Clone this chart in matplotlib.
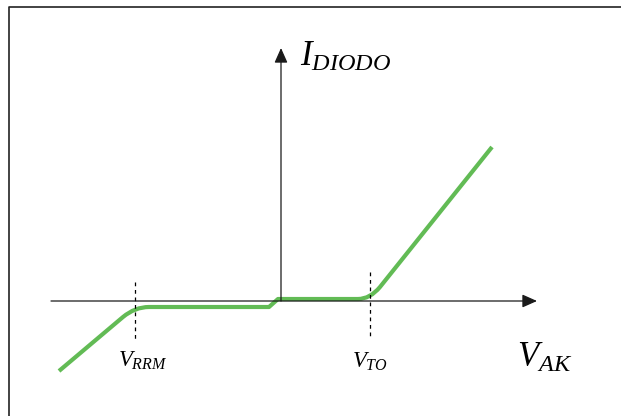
import matplotlib
matplotlib.use("Agg")
import matplotlib.pyplot as plt
from matplotlib.path import Path
from matplotlib.patches import PathPatch

plt.rcParams['mathtext.fontset'] = 'custom'
plt.rcParams['mathtext.it'] = 'Liberation Serif:italic'
plt.rcParams['mathtext.rm'] = 'Liberation Serif'

# característica I-V del diodo (unidades arbitrarias, origen en el cruce de ejes)
v_rrm = -146
v_to = 89
i_rev = -6      # tramo plano en inversa
i_fwd = 2       # tramo plano en directa
curva_v = [-222, -158, v_rrm, -132, -12, -3, 77, v_to, 99, 211]
curva_i = [-70, -16, i_rev, i_rev, i_rev, i_fwd, i_fwd, i_fwd, 14, 154]
codigos = [Path.MOVETO, Path.LINETO, Path.CURVE3, Path.CURVE3, Path.LINETO,
           Path.LINETO, Path.LINETO, Path.CURVE3, Path.CURVE3, Path.LINETO]

eje_v = (-230, 256)
eje_i = (0, 253)

fig = plt.figure(figsize=(6.21, 4.16), dpi=100)
ax = fig.add_axes([0, 0, 1, 1])
ax.set_xlim(-281, 340)
ax.set_ylim(-115, 301)
ax.axis('off')

# marco
ax.plot([0.0145, 0.0145, 1.0], [0.0, 0.983, 0.983], transform=ax.transAxes,
        color='#222222', lw=1.2, solid_capstyle='butt')

# ejes con flecha
flecha = dict(arrowstyle='-|>,head_length=0.45,head_width=0.2', color='#1a1a1a',
              lw=0.9, mutation_scale=20, shrinkA=0, shrinkB=0)
ax.annotate('', xy=(eje_v[1], 0), xytext=(eje_v[0], 0), arrowprops=flecha)
ax.annotate('', xy=(0, eje_i[1]), xytext=(0, eje_i[0]), arrowprops=flecha)

# líneas de referencia
ax.plot([v_rrm, v_rrm], [19, -39], color='black', lw=0.9, ls=(0, (3, 3)))
ax.plot([v_to, v_to], [29, -38], color='black', lw=0.9, ls=(0, (3, 3)))

# curva
camino = Path(list(zip(curva_v, curva_i)), codigos)
ax.add_patch(PathPatch(camino, facecolor='none', edgecolor='#62bb55', lw=3.0,
                       capstyle='butt', joinstyle='round'))

ax.text(19, 235, r'$I_{DIODO}$', fontsize=25, va='baseline', ha='left')
ax.text(236, -66, r'$V_{AK}$', fontsize=25, va='baseline', ha='left')
ax.text(-163, -66, r'$V_{RRM}$', fontsize=16.5, va='baseline', ha='left')
ax.text(71, -67, r'$V_{TO}$', fontsize=16.5, va='baseline', ha='left')

fig.savefig('out.png', dpi=100)
